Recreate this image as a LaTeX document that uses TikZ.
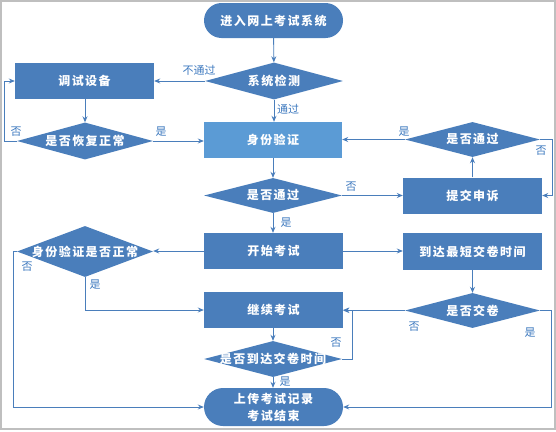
\documentclass[tikz,border=0pt]{standalone}
\usepackage{fontspec}
\usetikzlibrary{shapes.geometric,shapes.misc,arrows.meta}
\newfontfamily\cjk[LetterSpace=12]{Noto Sans CJK SC}
\newfontfamily\cjklab{Noto Sans CJK SC}
\definecolor{boxblue}{HTML}{4A7EBB}
\definecolor{idblue}{HTML}{5B9BD5}
\definecolor{lineblue}{HTML}{4A7EBB}
\definecolor{labblue}{HTML}{3C78BE}
\newcommand{\zw}[1]{\makebox[0pt][c]{#1}}
\tikzset{
  base/.style={fill=boxblue, draw=none, text=white, font=\cjk\bfseries\fontsize{12}{15}\selectfont, inner sep=0pt},
  procbox/.style={base, rectangle, minimum width=139pt, minimum height=36pt},
  decbox/.style={base, diamond, minimum width=#1, minimum height=36pt},
  decbox/.default=137pt,
  termbox/.style={base, rounded rectangle, minimum width=139pt, minimum height=36pt, align=center},
  conn/.style={draw=lineblue, line width=0.9pt, -{Stealth[length=6pt,width=5pt]}},
  lab/.style={text=labblue, font=\cjklab\fontsize{11}{12}\selectfont, inner sep=0pt}
}
\begin{document}
\begin{tikzpicture}[x=1pt,y=-1pt]
\useasboundingbox (0,0) rectangle (556,431);
\draw[color=black!25, line width=1.5pt] (1,1) rectangle (555,429);

\node[termbox, minimum height=35pt] (start) at (273.5,20.5) {进入网上考试系统};
\node[decbox=138pt, minimum height=37pt] (chk) at (274,81) {\zw{系统检测}};
\node[procbox] (dbg) at (84.5,81) {调试设备};
\node[decbox=136pt, minimum height=37pt] (rec) at (85,141) {\zw{是否恢复正常}};
\node[procbox, fill=idblue, minimum width=138pt] (id) at (273,140) {身份验证};
\node[decbox=138pt, minimum height=35pt] (pass) at (273,195.5) {\zw{是否通过}};
\node[procbox] (app) at (472.5,195.5) {提交申诉};
\node[decbox=135pt, minimum height=35pt] (pass2) at (472.5,139.5) {\zw{是否通过}};
\node[procbox] (sexam) at (273.5,251) {开始考试};
\node[procbox, minimum height=37pt] (minT) at (472.5,251.5) {到达最短交卷时间};
\node[decbox=136pt, minimum height=51pt] (idok) at (85,251.5) {\zw{身份验证是否正常}};
\node[procbox] (cont) at (273.5,310) {继续考试};
\node[decbox=135pt, minimum height=35pt] (sub) at (472.5,310.5) {\zw{是否交卷}};
\node[decbox=138pt] (tup) at (273,359) {\zw{是否到达交卷时间}};
\node[termbox, minimum height=38pt, font=\cjk\bfseries\fontsize{12}{17}\selectfont] (end) at (273.5,407) {上传考试记录\\考试结束};

\coordinate (c1) at (4,141);
\coordinate (c2) at (4,81);
\coordinate (c3) at (552,139.5);
\coordinate (c4) at (552,195.5);
\coordinate (c5) at (85,310);
\coordinate (c6) at (13,251.5);
\coordinate (c7) at (13,407);
\coordinate (c8) at (551,310.5);
\coordinate (c9) at (551,407);
\coordinate (c10) at (352,359);
\coordinate (c11) at (352,310);

\draw[conn] (start) -- (chk);
\draw[conn] (chk.west) -- (dbg.east);
\draw[conn] (chk.south) -- (id.north -| chk.south);
\draw[conn] (dbg.south -| rec.north) -- (rec.north);
\draw[conn] (rec.east) -- (id.west |- rec.east);
\draw[conn] (rec.west) -- (c1) -- (c2) -- (dbg.west);
\draw[conn] (id.south -| pass.north) -- (pass.north);
\draw[conn] (pass.east) -- (app.west);
\draw[conn] (pass.south) -- (sexam.north -| pass.south);
\draw[conn] (app.north) -- (pass2.south);
\draw[conn] (pass2.west) -- (id.east |- pass2.west);
\draw[conn] (pass2.east) -- (c3) -- (c4) -- (app.east);
\draw[conn] (sexam.east) -- (minT.west |- sexam.east);
\draw[conn] (sexam.west) -- (idok.east |- sexam.west);
\draw[conn] (idok.south) -- (c5) -- (cont.west);
\draw[conn] (idok.west) -- (c6) -- (c7) -- (end.west);
\draw[conn] (minT.south) -- (sub.north);
\draw[conn] (sub.west) -- (cont.east |- sub.west);
\draw[conn] (sub.east) -- (c8) -- (c9) -- (end.east);
\draw[conn] (cont.south -| tup.north) -- (tup.north);
\draw[conn] (tup.east) -- (c10) -- (c11) -- (cont.east);
\draw[conn] (tup.south) -- (end.north -| tup.south);

\node[lab] (l1) at (199,70) {不通过};
\node[lab] (l2) at (288,109) {通过};
\node[lab] (l3) at (161,132) {是};
\node[lab] (l4) at (16,132) {否};
\node[lab] (l5) at (351,187) {否};
\node[lab] (l6) at (286,223) {是};
\node[lab] (l7) at (404,132) {是};
\node[lab] (l8) at (541,151) {否};
\node[lab] (l9) at (95,285) {是};
\node[lab] (l10) at (27,267) {否};
\node[lab] (l11) at (414,327) {否};
\node[lab] (l12) at (530,333) {是};
\node[lab] (l13) at (336,343) {否};
\node[lab] (l14) at (285,382) {是};
\end{tikzpicture}
\end{document}
